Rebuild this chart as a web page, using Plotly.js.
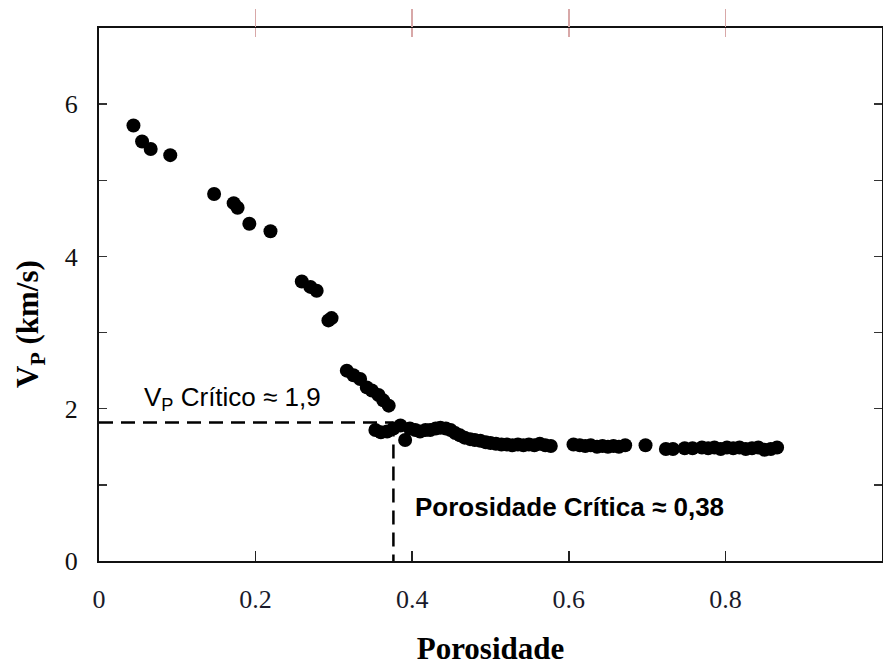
<!DOCTYPE html>
<html>
<head>
<meta charset="utf-8">
<script src="https://cdn.plot.ly/plotly-3.0.1.min.js"></script>
<style>html,body{margin:0;padding:0;background:#fff;}#chart{width:883px;height:666px;}</style>
</head>
<body>
<div id="chart"></div>
<script>
// Measured data: porosity vs P-wave velocity (km/s)
const porosity = [
  0.044, 0.055, 0.066, 0.091, 0.147, 0.172, 0.177, 0.192, 0.219,
  0.259, 0.270, 0.278, 0.293, 0.297,
  0.3165, 0.325, 0.3335, 0.342, 0.3485, 0.357, 0.363, 0.370,
  0.353, 0.360, 0.368, 0.376, 0.385, 0.391, 0.397, 0.404, 0.410, 0.417, 0.423, 0.430, 0.436, 0.443, 0.449,
  0.455, 0.461, 0.467, 0.474, 0.480, 0.487, 0.494, 0.500, 0.507, 0.514, 0.521, 0.528, 0.535, 0.542, 0.549,
  0.556, 0.563, 0.570, 0.577, 0.606, 0.614, 0.621, 0.628, 0.636, 0.643, 0.650, 0.657, 0.664, 0.672,
  0.698, 0.724, 0.733, 0.748, 0.758, 0.770, 0.778, 0.786, 0.794, 0.802, 0.810, 0.818, 0.826, 0.834,
  0.842, 0.850, 0.858, 0.866
];
const vp = [
  5.72, 5.51, 5.41, 5.33, 4.82, 4.70, 4.64, 4.43, 4.33,
  3.67, 3.60, 3.55, 3.16, 3.19,
  2.50, 2.44, 2.39, 2.28, 2.24, 2.18, 2.11, 2.04,
  1.72, 1.69, 1.70, 1.74, 1.78, 1.59, 1.74, 1.72, 1.70, 1.72, 1.72, 1.74, 1.75, 1.74, 1.72,
  1.68, 1.65, 1.62, 1.60, 1.59, 1.58, 1.56, 1.55, 1.54, 1.53, 1.53, 1.52, 1.53, 1.52, 1.53,
  1.52, 1.54, 1.52, 1.51, 1.53, 1.52, 1.51, 1.52, 1.50, 1.51, 1.50, 1.51, 1.50, 1.52,
  1.52, 1.47, 1.47, 1.48, 1.48, 1.49, 1.48, 1.49, 1.47, 1.49, 1.48, 1.49, 1.47, 1.48,
  1.49, 1.46, 1.47, 1.49
];
// Critical values (reference dashed lines)
const criticalPorosity = 0.376;
const criticalVp = 1.82;
const xTickVals = [0, 0.2, 0.4, 0.6, 0.8];
const xTickText = ['0', '0.2', '0.4', '0.6', '0.8'];
const topTickVals = [0.2, 0.4, 0.6, 0.8];
const yTickVals = [0, 2, 4, 6];
const yTickText = ['0', '2', '4', '6'];

const dashStyle = {color: '#000', width: 2.5, dash: '14px,8px'};

const traces = [
  {x: [0, criticalPorosity], y: [criticalVp, criticalVp], mode: 'lines', line: dashStyle, hoverinfo: 'skip', showlegend: false},
  {x: [criticalPorosity, criticalPorosity], y: [criticalVp, 0], mode: 'lines', line: dashStyle, hoverinfo: 'skip', showlegend: false},
  {x: porosity, y: vp, mode: 'markers', type: 'scatter',
   marker: {color: '#000', size: 14, line: {width: 0}}, showlegend: false},
  {x: topTickVals, y: [0, 0, 0, 0], xaxis: 'x2', mode: 'markers', marker: {opacity: 0}, hoverinfo: 'skip', showlegend: false},
  {x: topTickVals, y: [0, 0, 0, 0], xaxis: 'x3', mode: 'markers', marker: {opacity: 0}, hoverinfo: 'skip', showlegend: false}
];

const serif = '"Liberation Serif", "Times New Roman", serif';
const sans = '"Liberation Sans", Arial, sans-serif';

const topTickAxis = (dir, len) => ({
  range: [0, 1], overlaying: 'x', side: 'top', showgrid: false, zeroline: false,
  showline: false, tickvals: topTickVals, ticks: dir, ticklen: len,
  tickwidth: 1.5, tickcolor: '#d8a8a8', showticklabels: false
});

const layout = {
  width: 883, height: 666,
  margin: {l: 99, r: 1, t: 28, b: 105},
  paper_bgcolor: '#fff', plot_bgcolor: '#fff',
  showlegend: false,
  xaxis: {
    range: [0, 1], showgrid: false, zeroline: false,
    showline: true, linecolor: '#111', linewidth: 2, mirror: true,
    tickvals: xTickVals, ticktext: xTickText,
    ticks: 'inside', ticklen: 10, tickwidth: 1.5, tickcolor: '#222',
    ticklabelstandoff: 14,
    tickfont: {family: serif, size: 26, color: '#1a1a2a'},
    title: {text: 'Porosidade', font: {family: serif, size: 31, color: '#000', weight: 'bold'}, standoff: 24}
  },
  xaxis2: topTickAxis('outside', 18),
  xaxis3: topTickAxis('inside', 9),
  yaxis: {
    range: [0, 7], showgrid: false, zeroline: false,
    showline: true, linecolor: '#111', linewidth: 2, mirror: 'ticks',
    tickvals: yTickVals, ticktext: yTickText,
    ticks: 'inside', ticklen: 8, tickwidth: 1.5, tickcolor: '#333',
    minor: {dtick: 1, ticks: 'inside', ticklen: 8, tickwidth: 1.5, tickcolor: '#333'},
    ticklabelstandoff: 14,
    tickfont: {family: serif, size: 26, color: '#111'}
  },
  annotations: [
    {xref: 'paper', yref: 'paper', x: -0.088, y: 0.445, textangle: -90,
     text: 'V<sub>P</sub> (km/s)', showarrow: false, xanchor: 'center', yanchor: 'middle',
     font: {family: serif, size: 31, color: '#000', weight: 'bold'}},
    {xref: 'x', yref: 'y', x: 0.055, y: 2.14, xanchor: 'left', yanchor: 'middle',
     text: 'V<sub>P</sub> Crítico ≈ 1,9', showarrow: false,
     font: {family: sans, size: 26, color: '#000'}},
    {xref: 'x', yref: 'y', x: 0.401, y: 0.71, xanchor: 'left', yanchor: 'middle',
     text: 'Porosidade Crítica ≈ 0,38', showarrow: false,
     font: {family: sans, size: 26, color: '#000', weight: 'bold'}}
  ]
};

Plotly.newPlot('chart', traces, layout, {staticPlot: true, displayModeBar: false});
</script>
</body>
</html>
